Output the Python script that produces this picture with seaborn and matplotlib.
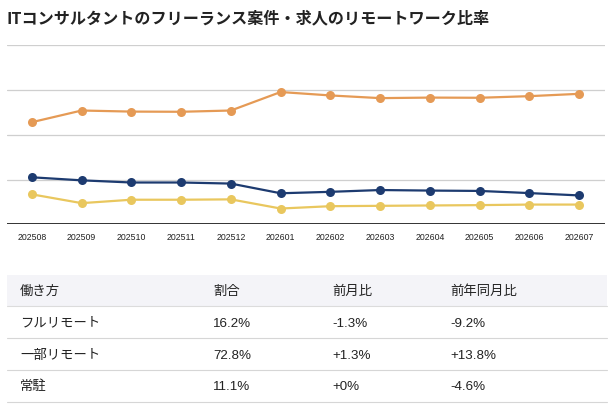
import numpy as np
import pandas as pd
import seaborn as sns
from matplotlib import pyplot as plt
from matplotlib.patches import Rectangle

# data
months = ["202508", "202509", "202510", "202511", "202512", "202601",
          "202602", "202603", "202604", "202605", "202606", "202607"]
full_remote = [26.3, 24.6, 23.4, 23.4, 22.8, 17.4, 18.2, 19.2, 18.9, 18.7, 17.5, 16.2]
partial_remote = [57.0, 63.5, 62.9, 62.8, 63.5, 73.8, 71.9, 70.4, 70.7, 70.6, 71.5, 72.8]
onsite = [16.8, 11.9, 13.8, 13.8, 14.0, 8.9, 10.2, 10.4, 10.6, 10.8, 11.1, 11.1]
series_names = ["フルリモート", "一部リモート", "常駐"]
series_colors = ["#1d3b70", "#e59a55", "#e9c75e"]

title = "ITコンサルタントのフリーランス案件・求人のリモートワーク比率"
table_header = ["働き方", "割合", "前月比", "前年同月比"]
table_rows = [
    ["フルリモート", "16.2%", "-1.3%", "-9.2%"],
    ["一部リモート", "72.8%", "+1.3%", "+13.8%"],
    ["常駐", "11.1%", "+0%", "-4.6%"],
]

sns.set_theme(style="white")
plt.rcParams['font.family'] = ['Noto Sans CJK JP', 'DejaVu Sans']

W, H = 615, 415
fig = plt.figure(figsize=(W / 100, H / 100), dpi=100)

df = pd.DataFrame({
    "month": months * 3,
    "idx": list(range(len(months))) * 3,
    "value": full_remote + partial_remote + onsite,
    "type": sum([[n] * len(months) for n in series_names], []),
})

# chart area in pixels: left 7, right 605, top 45 (=100), bottom 224.5 (=0)
ax = fig.add_axes([7 / W, (H - 224.5) / H, 598 / W, (224.5 - 45) / H])
sns.lineplot(data=df, x="idx", y="value", hue="type", hue_order=series_names,
             palette=series_colors, marker="o", markersize=6.5, markeredgewidth=0,
             linewidth=1.6, legend=False, ax=ax)
ax.set_xlim(-0.5, 11.52)
ax.set_ylim(0, 100)
for v in [25, 50, 75, 100]:
    ax.axhline(v, color="#cfcfcf", linewidth=0.9, zorder=0)
ax.axhline(0, color="#111111", linewidth=1.2, zorder=1)
ax.set_yticks([])
ax.set_xticks(range(len(months)))
ax.set_xticklabels(months, fontsize=6.3, family=['Liberation Sans', 'DejaVu Sans'], color="#222222")
ax.tick_params(axis="x", length=0, pad=6)
ax.set_xlabel("")
ax.set_ylabel("")
for s in ax.spines.values():
    s.set_visible(False)

fig.text(7 / W, 1 - 18 / H, title, fontsize=11.6, fontweight="bold",
         color="#222222", va="center", ha="left")

# table drawn in pixel coordinates
tax = fig.add_axes([0, 0, 1, 1])
tax.set_xlim(0, W)
tax.set_ylim(H, 0)
tax.axis("off")
tax.add_patch(Rectangle((7, 275), 600, 31, facecolor="#f4f4f8", edgecolor="none"))
tax.plot([7, 607], [306, 306], color="#dcdcdc", linewidth=0.8)
col_x = [20, 213, 332, 450]
row_y = [292, 323.5, 355.5, 387]
tfont = ['Liberation Sans', 'Noto Sans CJK JP']
for x, t in zip(col_x, table_header):
    tax.text(x, row_y[0], t, fontsize=9.6, family=tfont, color="#222222", va="center")
for i, row in enumerate(table_rows):
    y = row_y[i + 1]
    for x, t in zip(col_x, row):
        tax.text(x, y, t, fontsize=9.6, family=tfont, color="#222222", va="center")
    line_y = 338.3 + 32 * i
    tax.plot([7, 607], [line_y, line_y], color="#d6d6d6", linewidth=0.8)

fig.savefig("out.png", dpi=100)
